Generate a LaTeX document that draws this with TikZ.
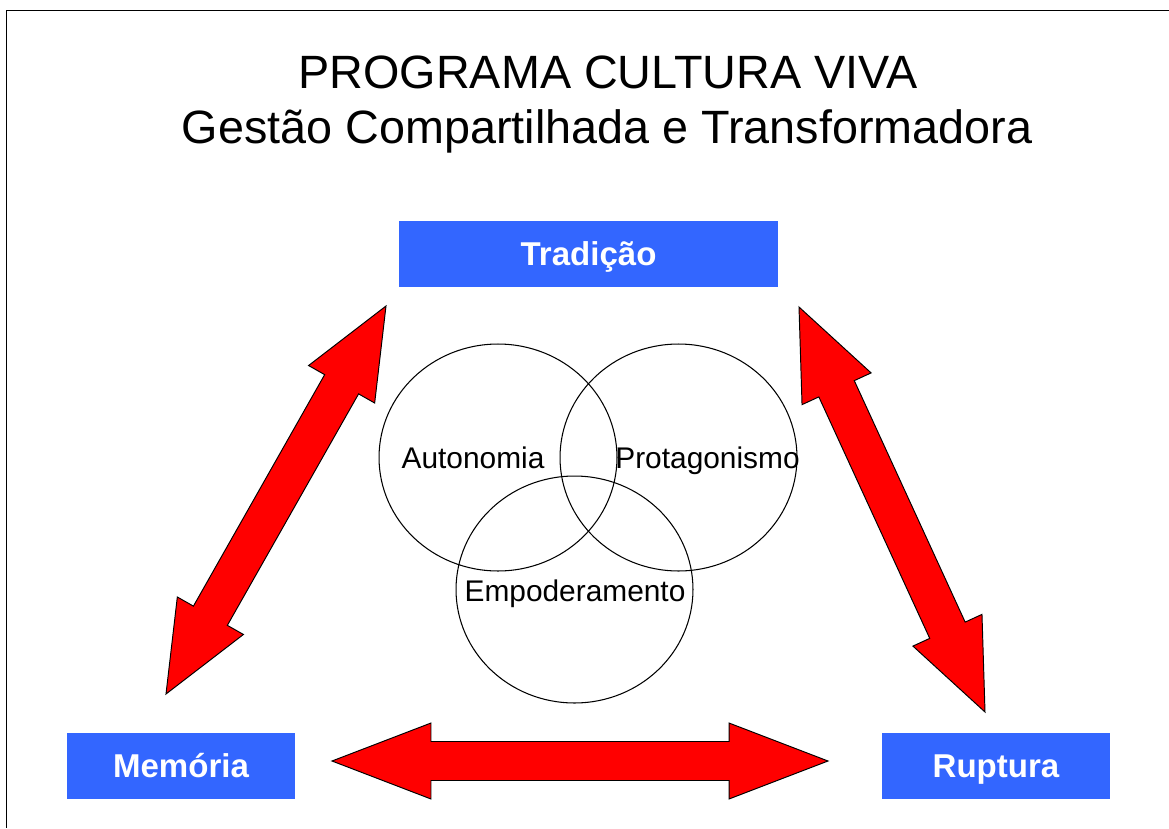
\documentclass[tikz,border=0pt]{standalone}
\usepackage{fontspec}
\setmainfont{Liberation Sans}
\usetikzlibrary{calc}

\definecolor{boxblue}{HTML}{3366FF}

\tikzset{
	bluebox/.style={fill=boxblue, text=white, font=\fontsize{18.8pt}{22pt}\selectfont\bfseries,
		minimum height=1.32cm, inner sep=0pt, text height=13.5pt, text depth=0pt},
	bigarrow/.style={draw=black, line width=0.55pt, fill=red, line join=miter},
	venn/.style={draw=black, line width=0.6pt},
	vennlabel/.style={font=\fontsize{17pt}{20pt}\selectfont, anchor=base, inner sep=0pt},
	titletext/.style={font=\fontsize{26.6pt}{31pt}\selectfont, anchor=base, inner sep=0pt}
}

% double block arrow: tip, tip, head length
\newcommand{\dblarrow}[3]{
	\coordinate (ha) at ($(#1)!#3!(#2)$);
	\coordinate (hb) at ($(#2)!#3!(#1)$);
	\draw [bigarrow] (#1)
		-- ($(ha)!0.76cm!90:(#2)$) -- ($(ha)!0.39cm!90:(#2)$)
		-- ($(hb)!0.39cm!-90:(#1)$) -- ($(hb)!0.76cm!-90:(#1)$)
		-- (#2)
		-- ($(hb)!0.76cm!90:(#1)$) -- ($(hb)!0.39cm!90:(#1)$)
		-- ($(ha)!0.39cm!-90:(#2)$) -- ($(ha)!0.76cm!-90:(#2)$) -- cycle;
}

\begin{document}
\begin{tikzpicture}[x=0.02cm, y=-0.02cm]
	\useasboundingbox (0,0) rectangle (1169,828);

	%Frame
	\draw [line width=0.9pt] (1169,10.5) -- (6.5,10.5) -- (6.5,828);

	%Title
	\node [titletext] (title1) at (608,89) {PROGRAMA CULTURA VIVA};
	\node [titletext] (title2) at (607,143) {Gestão Compartilhada e Transformadora};

	%Boxes
	\node [bluebox, minimum width=7.58cm] (trad) at (588.5,254) {Tradição};
	\node [bluebox, minimum width=4.56cm] (mem) at (181,766) {Memória};
	\node [bluebox, minimum width=4.56cm] (rup) at (996,766) {Ruptura};

	%Circles in the middle
	\draw [venn] (498,457.5) ellipse [x radius=2.38cm, y radius=2.27cm];
	\draw [venn] (678.5,457.5) ellipse [x radius=2.37cm, y radius=2.27cm];
	\draw [venn] (574.5,589.5) ellipse [x radius=2.37cm, y radius=2.27cm];
	\node [vennlabel] (aut) at (473,468) {Autonomia};
	\node [vennlabel] (prot) at (707.5,468) {Protagonismo};
	\node [vennlabel] (emp) at (575,601) {Empoderamento};

	%Arrow tips
	\coordinate (memtop) at (386,306);
	\coordinate (membot) at (166,694);
	\coordinate (ruptop) at (799,307);
	\coordinate (rupbot) at (985,712);
	\coordinate (botleft) at (332,761);
	\coordinate (botright) at (828,761);

	%Arrow Tradicao - Memoria
	\dblarrow{memtop}{membot}{1.8cm}
	%Arrow Tradicao - Ruptura
	\dblarrow{ruptop}{rupbot}{1.8cm}
	%Arrow Memoria - Ruptura
	\dblarrow{botleft}{botright}{1.98cm}
\end{tikzpicture}
\end{document}
